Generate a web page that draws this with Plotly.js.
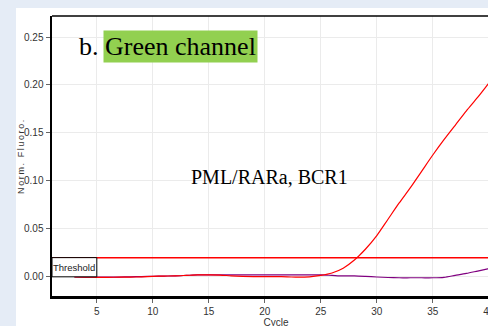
<!DOCTYPE html>
<html>
<head>
<meta charset="utf-8">
<script src="https://cdn.plot.ly/plotly-3.0.1.min.js"></script>
<style>
  html, body { margin: 0; padding: 0; background: #e5ecf6; width: 488px; height: 326px; overflow: hidden; }
  #chart { position: absolute; left: 16px; top: 8px; }
  .ytitle { letter-spacing: 1.6px; }
</style>
</head>
<body>
<div id="chart"></div>
<script>
// Data
const cycles = [3,4,5,6,7,8,9,10,11,12,13,14,15,16,17,18,19,20,21,22,23,24,25,26,27,28,29,30,31,32,33,34,35,36,37,38,39,40];
const pmlRara = [0.0,-0.0003,-0.0005,-0.0005,-0.0004,-0.0003,0.0,0.0005,0.0008,0.001,0.0015,0.002,0.002,0.0018,0.001,0.0005,0.0003,0.0003,0.0002,0.0,-0.0004,0.0,0.0015,0.004,0.009,0.0175,0.029,0.043,0.060,0.077,0.093,0.110,0.127,0.143,0.158,0.173,0.187,0.202];
const bcr1 = [0.0,-0.0003,-0.0004,-0.0004,-0.0003,0.0,0.0003,0.0006,0.0008,0.001,0.0015,0.002,0.002,0.002,0.002,0.002,0.002,0.002,0.002,0.002,0.002,0.002,0.002,0.0015,0.001,0.001,0.0005,-0.0002,-0.0007,-0.001,-0.001,-0.001,-0.001,-0.0005,0.0015,0.0035,0.006,0.0085];
const threshold = 0.02;
const xTicks = [5,10,15,20,25,30,35,40];
const yTicks = [0.00,0.05,0.10,0.15,0.20,0.25];

const xRange = [1, 41];
const yRange = [-0.02, 0.2719];

const traces = [
  { x: cycles, y: bcr1, type: 'scatter', mode: 'lines', line: { color: '#800080', width: 1.2, shape: 'spline', smoothing: 0.8 }, hoverinfo: 'skip' },
  { x: cycles, y: pmlRara, type: 'scatter', mode: 'lines', line: { color: '#ff0000', width: 1.2, shape: 'spline', smoothing: 0.8 }, hoverinfo: 'skip' }
];

const serif = '"Liberation Serif", "Times New Roman", Times, serif';
const sans = '"Liberation Sans Narrow", "Liberation Sans", Arial, sans-serif';

const layout = {
  width: 504, height: 340,
  margin: { l: 36, r: 20, t: 8, b: 52 },
  paper_bgcolor: '#ffffff', plot_bgcolor: '#ffffff',
  showlegend: false,
  xaxis: {
    range: xRange, tickvals: xTicks, ticktext: xTicks.map(String),
    showgrid: true, gridcolor: '#ebebeb', gridwidth: 1,
    zeroline: false, showline: true, linecolor: '#000000', linewidth: 2.5,
    ticks: 'outside', ticklen: 4, tickcolor: '#666', tickwidth: 1,
    tickfont: { family: sans, size: 10, color: '#333' },
    title: { text: 'Cycle', font: { family: sans, size: 10, color: '#333' }, standoff: 2 }
  },
  yaxis: {
    range: yRange, tickvals: yTicks, ticktext: yTicks.map(v => v.toFixed(2)),
    showgrid: true, gridcolor: '#ebebeb', gridwidth: 1,
    zeroline: false, showline: true, linecolor: '#000000', linewidth: 2.5,
    ticks: 'outside', ticklen: 4, tickcolor: '#666', tickwidth: 1,
    tickfont: { family: sans, size: 10, color: '#333' },
    title: { text: 'Norm. Fluoro.', font: { family: sans, size: 9, color: '#333' }, standoff: 4 }
  },
  shapes: [
    { type: 'line', xref: 'paper', yref: 'paper', x0: 0, x1: 1, y0: 1, y1: 1, line: { color: '#000', width: 1.5 } },
    { type: 'line', xref: 'paper', yref: 'y', x0: 0, x1: 1, y0: threshold, y1: threshold, line: { color: '#ff0000', width: 1.5 } },
    { type: 'rect', xref: 'x', yref: 'y', x0: xRange[0], x1: 5, y0: 0, y1: threshold, fillcolor: '#ffffff', line: { color: '#000', width: 1 }, layer: 'above' }
  ],
  annotations: [
    { x: 3, y: threshold / 2, xref: 'x', yref: 'y', text: 'Threshold', showarrow: false, font: { family: sans, size: 9.5, color: '#222' } },
    { x: 4.3, y: 0.2406, xref: 'x', yref: 'y', text: 'b.', showarrow: false, font: { family: serif, size: 26, color: '#000' } },
    { x: 12.5, y: 0.2406, xref: 'x', yref: 'y', text: 'Green channel', showarrow: false, bgcolor: '#92d050', borderpad: 1, font: { family: serif, size: 26, color: '#000' } },
    { x: 20.45, y: 0.104, xref: 'x', yref: 'y', text: 'PML/RARa, BCR1', showarrow: false, font: { family: serif, size: 20, color: '#000' } }
  ]
};

Plotly.newPlot('chart', traces, layout, { displayModeBar: false, staticPlot: true });
</script>
</body>
</html>
